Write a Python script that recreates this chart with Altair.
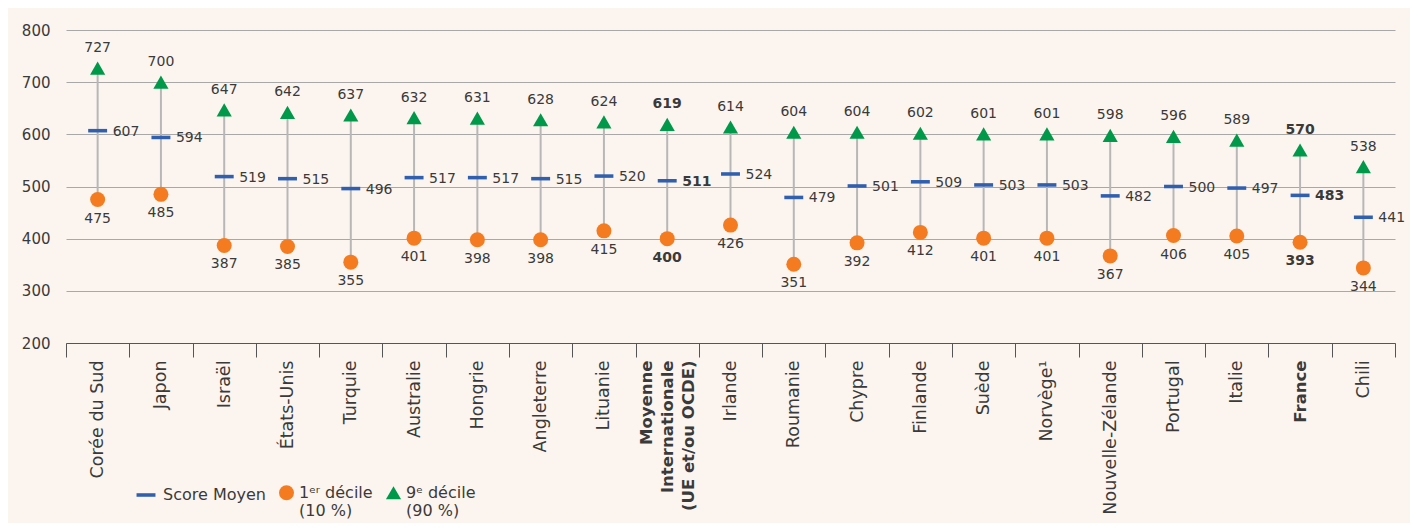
import altair as alt
import pandas as pd

countries = ["Corée du Sud", "Japon", "Israël", "États-Unis", "Turquie", "Australie",
             "Hongrie", "Angleterre", "Lituanie", "Moyenne Internationale (UE et/ou OCDE)",
             "Irlande", "Roumanie", "Chypre", "Finlande", "Suède", "Norvège¹",
             "Nouvelle-Zélande", "Portugal", "Italie", "France", "Chili"]
p90 = [727, 700, 647, 642, 637, 632, 631, 628, 624, 619, 614, 604, 604, 602, 601, 601, 598, 596, 589, 570, 538]
mean = [607, 594, 519, 515, 496, 517, 517, 515, 520, 511, 524, 479, 501, 509, 503, 503, 482, 500, 497, 483, 441]
p10 = [475, 485, 387, 385, 355, 401, 398, 398, 415, 400, 426, 351, 392, 412, 401, 401, 367, 406, 405, 393, 344]
bold_rows = ["Moyenne Internationale (UE et/ou OCDE)", "France"]

types = ["Score Moyen| ", "1ᵉʳ décile|(10 %)", "9ᵉ décile|(90 %)"]
colors = ["#2f5fae", "#f47b20", "#00994a"]
FONT = "DejaVu Sans"
TXT = "#3a3a3a"

wide = pd.DataFrame({"pays": countries, "p90": p90, "mean": mean, "p10": p10})
wide["bold"] = wide["pays"].isin(bold_rows)

rows = []
for c, a, m, b in zip(countries, p90, mean, p10):
    rows.append({"pays": c, "type": types[0], "valeur": m})
    rows.append({"pays": c, "type": types[1], "valeur": b})
    rows.append({"pays": c, "type": types[2], "valeur": a})
long = pd.DataFrame(rows)

bold_test = " || ".join([f"datum.value == '{b}'" for b in bold_rows])
multi = "Moyenne Internationale (UE et/ou OCDE)"

x_enc = alt.X("pays:N", sort=countries,
              scale=alt.Scale(type="band", paddingInner=0, paddingOuter=0),
              axis=alt.Axis(title=None, labelAngle=-90, tickBand="extent", tickSize=14,
                            tickColor="#555555", domainColor="#555555", domainWidth=1.2,
                            labelPadding=3, labelColor=TXT, labelFont=FONT,
                            labelLimit=0, grid=False, labelLineHeight=21,
                            labelExpr=f"datum.value == '{multi}' ? ['Moyenne', 'Internationale', '(UE et/ou OCDE)'] : datum.label",
                            labelOffset=alt.condition(f"datum.value == '{multi}'", alt.value(-21), alt.value(0)),
                            labelFontSize=alt.condition(bold_test, alt.value(16.5), alt.value(17.5)),
                            labelFontWeight=alt.condition(bold_test, alt.value("bold"), alt.value("normal"))))

y_scale = alt.Scale(domain=[200, 800], nice=False, zero=False)
y_axis = alt.Axis(title=None, values=[200, 300, 400, 500, 600, 700, 800], grid=True,
                  domain=False, ticks=False, labelPadding=16, labelFontSize=15,
                  labelColor=TXT, labelFont=FONT, gridColor="#a8a8a8", gridWidth=1.2)

base = alt.Chart(wide)

rules = base.mark_rule(color="#b7b7b7", strokeWidth=2).encode(
    x=x_enc,
    y=alt.Y("p10:Q", scale=y_scale, axis=y_axis),
    y2="p90:Q",
)

rect_path = "M-0.8,-0.15H0.8V0.15H-0.8Z"
leg = dict(title=None, orient="none", legendX=67, legendY=452,
           direction="horizontal", labelFontSize=16, labelFont=FONT,
           labelColor=TXT, symbolSize=200, columnPadding=12,
           labelOffset=4, labelBaseline="middle", labelExpr="split(datum.label, '|')")
points = alt.Chart(long).mark_point(filled=True, opacity=1).encode(
    x=x_enc,
    y=alt.Y("valeur:Q", scale=y_scale, axis=y_axis),
    shape=alt.Shape("type:N", scale=alt.Scale(domain=types, range=[rect_path, "circle", "triangle-up"]),
                    legend=alt.Legend(**leg)),
    color=alt.Color("type:N", scale=alt.Scale(domain=types, range=colors),
                    legend=alt.Legend(**leg)),
    size=alt.Size("type:N", scale=alt.Scale(type="ordinal", domain=types, range=[560, 225, 230]), legend=None),
)


def labels(field, dx, dy, align):
    layers = []
    for is_bold in (False, True):
        layers.append(
            base.transform_filter(f"datum.bold == {'true' if is_bold else 'false'}")
            .mark_text(dx=dx, dy=dy, align=align, baseline="middle", fontSize=14,
                       font=FONT, color=TXT, fontWeight="bold" if is_bold else "normal")
            .encode(x=x_enc, y=alt.Y(f"{field}:Q", scale=y_scale, axis=y_axis),
                    text=alt.Text(f"{field}:Q"))
        )
    return layers


text_layers = labels("p90", 0, -20, "center") + labels("mean", 15, 1, "left") + labels("p10", 0, 19, "center")

chart = alt.layer(rules, points, *text_layers).properties(
    width=1329, height=313,
    autosize=alt.AutoSizeParams(type="none"),
    padding={"left": 58, "top": 22, "right": 15, "bottom": 180},
).configure(background="#fcf5ef").configure_view(stroke=None)

chart.save("out.html", embed_options={"renderer": "svg", "actions": False})
